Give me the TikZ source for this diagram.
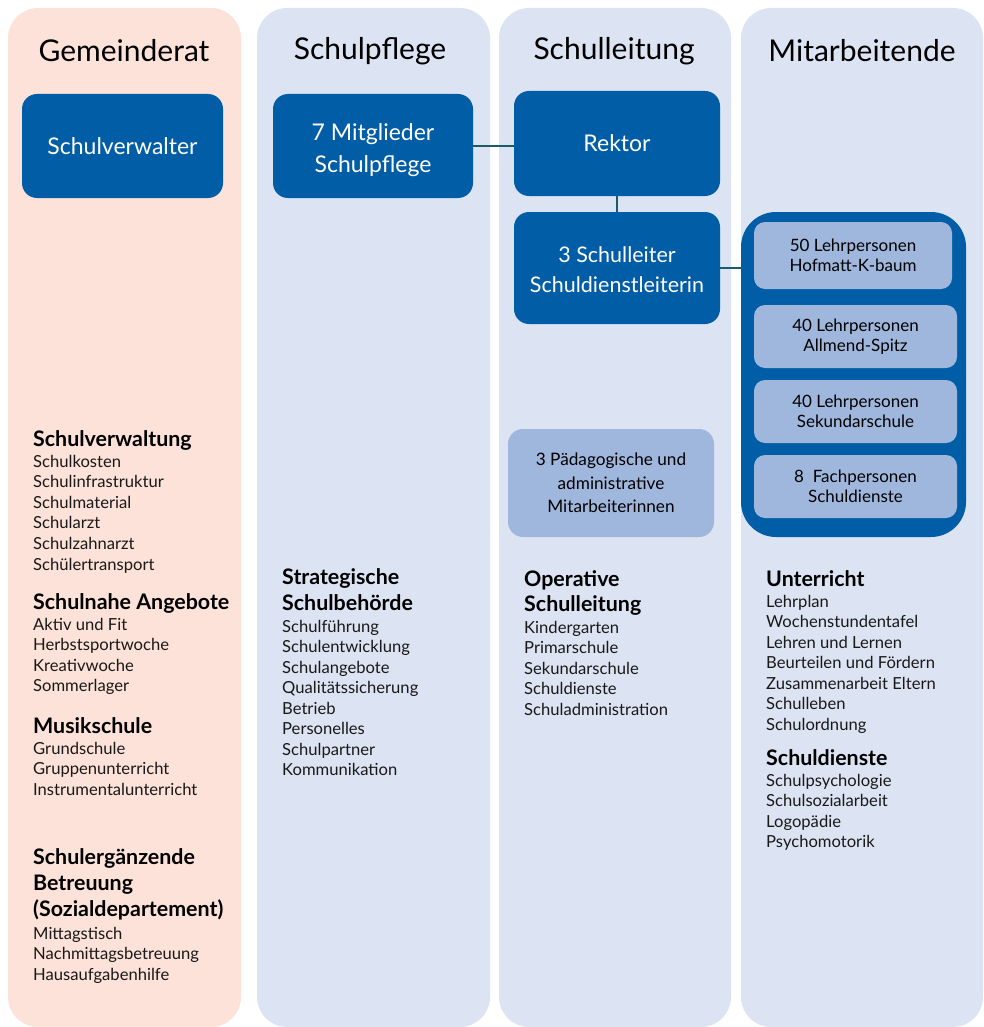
\documentclass[tikz,border=0pt]{standalone}
\usepackage{fontspec}
\setmainfont{Lato}
\definecolor{peach}{HTML}{FCE2D8}
\definecolor{colblue}{HTML}{DCE3F2}
\definecolor{darkblue}{HTML}{005DA6}
\definecolor{lightbox}{HTML}{A0B7DD}
\definecolor{connc}{HTML}{1B5C6B}
\newcommand\itemlist[5]{%
  \foreach \t [count=\i from 0] in {#4} \node[itm] (#5-\i) at (#1,#2+#3*\i) {\t};}
\newcommand\headlist[5]{%
  \foreach \t [count=\i from 0] in {#4} \node[hd] (#5-\i) at (#1,#2+#3*\i) {\t};}
\newcommand\twolines[3]{\raisebox{#1}[\height][\depth]{\begin{tabular}{@{}c@{}}#2\\#3\end{tabular}}}
\begin{document}
\begin{tikzpicture}[x=1pt,y=-1pt,
  coltitle/.style={font=\fontsize{30}{34}\selectfont, text=black, inner sep=0pt},
  dbox/.style={fill=darkblue, text=white, rounded corners=15pt, inner sep=0pt, align=center, font=\fontsize{23}{32}\selectfont},
  lbox/.style={fill=lightbox, text=black, rounded corners=11pt, inner sep=0pt, align=center, font=\fontsize{17}{20}\selectfont},
  itm/.style={anchor=base west, inner sep=0pt, font=\fontsize{16.6}{18}\selectfont, text=black!90},
  hd/.style={anchor=base west, inner sep=0pt, font=\fontsize{21.4}{24}\selectfont\bfseries, text=black},
  conn/.style={draw=connc, line width=1.5pt}]
\useasboundingbox (0,0) rectangle (983,1027);
% columns
\fill[peach, rounded corners=30pt] (8,8) rectangle (241,1027);
\fill[colblue, rounded corners=30pt] (257,8) rectangle (490,1027);
\fill[colblue, rounded corners=30pt] (499,8) rectangle (731,1027);
\fill[colblue, rounded corners=30pt] (741,8) rectangle (983,1027);
% titles
\node[coltitle] (t1) at (124,51) {Gemeinderat};
\node[coltitle] (t2) at (370,51) {Schulpflege};
\node[coltitle] (t3) at (614,51) {Schulleitung};
\node[coltitle] (t4) at (862,51) {Mitarbeitende};
% boxes
\node[dbox, minimum width=201pt, minimum height=104pt] (sv) at (122.5,146) {Schulverwalter};
\node[dbox, minimum width=200pt, minimum height=104pt] (sp) at (373,146) {\twolines{-4pt}{7 Mitglieder}{Schulpflege}};
\node[dbox, minimum width=206pt, minimum height=105pt] (rek) at (617,143.5) {Rektor};
\node[dbox, minimum width=206pt, minimum height=112pt, font=\fontsize{21.5}{30}\selectfont] (sl) at (617,268) {\twolines{-3.5pt}{3 Schulleiter}{Schuldienstleiterin}};
\node[fill=darkblue, rounded corners=35pt, minimum width=225pt, minimum height=325pt, inner sep=0pt] (ma) at (853.5,374.5) {};
\node[lbox, minimum width=198pt, minimum height=67pt] (b1) at (853,255.5) {50 Lehrpersonen\\Hofmatt-K-baum};
\node[lbox, minimum width=203pt, minimum height=63pt] (b2) at (855.5,336.5) {40 Lehrpersonen\\Allmend-Spitz};
\node[lbox, minimum width=203pt, minimum height=63pt] (b3) at (855.5,411.5) {40 Lehrpersonen\\Sekundarschule};
\node[lbox, minimum width=203pt, minimum height=63pt] (b4) at (855.5,486.5) {8\ \ Fachpersonen\\Schuldienste};
\node[lbox, rounded corners=15pt, minimum width=206pt, minimum height=108pt, font=\fontsize{17.2}{23.5}\selectfont] (pad) at (611,483) {3 Pädagogische und\\administrative\\Mitarbeiterinnen};
% connectors
\draw[conn] (sp.east) -- (sp.east -| rek.west);
\draw[conn] (rek.south) -- (sl.north);
\draw[conn] (sl.east) -- (sl.east -| ma.west);
% Gemeinderat lists
\headlist{33}{446}{26}{Schulverwaltung}{h1}
\itemlist{33}{467}{20.6}{Schulkosten,Schulinfrastruktur,Schulmaterial,Schularzt,Schulzahnarzt,Schülertransport}{i1}
\headlist{33}{609}{26}{Schulnahe Angebote}{h2}
\itemlist{33}{630}{20.6}{Aktiv und Fit,Herbstsportwoche,Kreativwoche,Sommerlager}{i2}
\headlist{33}{733}{26}{Musikschule}{h3}
\itemlist{33}{754}{20.8}{Grundschule,Gruppenunterricht,Instrumentalunterricht}{i3}
\headlist{33}{864}{26}{Schulergänzende,Betreuung,(Sozialdepartement)}{h4}
\itemlist{33}{939}{20.5}{Mittagstisch,Nachmittagsbetreuung,Hausaufgabenhilfe}{i4}
% Schulpflege list
\headlist{282}{584}{26}{Strategische,Schulbehörde}{h5}
\itemlist{282}{632}{20.5}{Schulführung,Schulentwicklung,Schulangebote,Qualitätssicherung,Betrieb,Personelles,Schulpartner,Kommunikation}{i5}
% Schulleitung list
\headlist{524}{586}{25.5}{Operative,Schulleitung}{h6}
\itemlist{524}{633}{20.5}{Kindergarten,Primarschule,Sekundarschule,Schuldienste,Schuladministration}{i6}
% Mitarbeitende list
\headlist{766}{586}{26}{Unterricht}{h7}
\itemlist{766}{607}{20.5}{Lehrplan,Wochenstundentafel,Lehren und Lernen,Beurteilen und Fördern,Zusammenarbeit Eltern,Schulleben,Schulordnung}{i7}
\headlist{766}{765}{26}{Schuldienste}{h8}
\itemlist{766}{786}{20.6}{Schulpsychologie,Schulsozialarbeit,Logopädie,Psychomotorik}{i8}
\end{tikzpicture}
\end{document}
